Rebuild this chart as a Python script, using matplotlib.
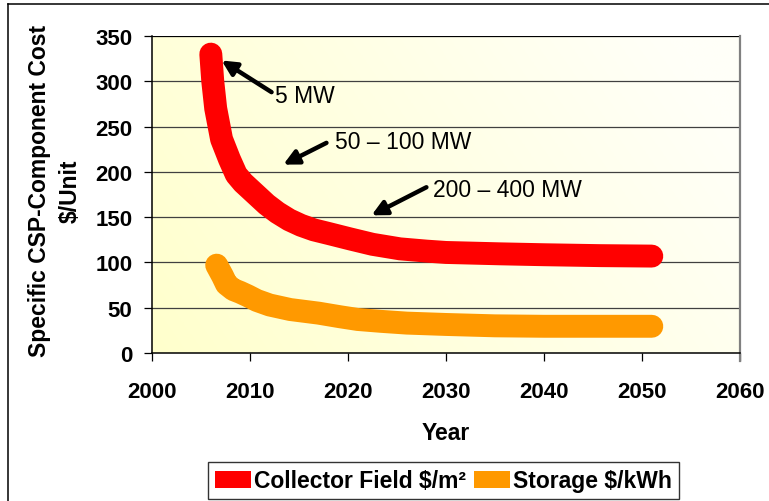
import matplotlib
matplotlib.use("Agg")
import matplotlib.pyplot as plt
import numpy as np
from matplotlib.lines import Line2D

plt.rcParams['font.family'] = ['Liberation Sans', 'DejaVu Sans']

# ---- data ----
collector_years = [2006.0, 2006.2, 2006.5, 2007.1, 2007.9, 2008.6, 2009.3, 2010.0, 2010.8,
                   2011.7, 2012.8, 2014.0, 2015.2, 2016.5, 2018.0, 2020.2, 2022.5,
                   2025.3, 2028.0, 2030.0, 2035.5, 2040.0, 2045.7, 2051.0]
collector_cost = [330, 300, 270, 236, 214, 197, 188, 181, 173,
                  164, 155, 147, 141, 136, 132, 126, 120,
                  115, 112.5, 111, 109.5, 108.5, 107.5, 107]

storage_years = [2006.6, 2007.2, 2007.6, 2008.3, 2009.0, 2009.8, 2010.7, 2012.0, 2014.1,
                 2017.0, 2019.2, 2021.0, 2023.3, 2026.0, 2030.0, 2035.0, 2040.0, 2045.0, 2051.0]
storage_cost = [97, 85, 76, 70, 67, 63, 58, 53, 48,
                44, 40, 37, 35, 33, 31.5, 30, 29.5, 29.5, 29.5]

series_labels = ["Collector Field $/m²", "Storage $/kWh"]
series_colors = ["#FF0000", "#FF9900"]

x_ticks = [2000, 2010, 2020, 2030, 2040, 2050, 2060]
y_ticks = [0, 50, 100, 150, 200, 250, 300, 350]

annot_texts = ["5 MW", "50 – 100 MW", "200 – 400 MW"]
annot_heads = [(2007.1, 323), (2013.4, 208), (2022.4, 152)]
annot_tails = [(2012.2, 288), (2017.8, 232), (2028.0, 183)]
annot_text_pos = [(2012.6, 284), (2018.7, 233), (2028.7, 181)]

# ---- figure ----
fig = plt.figure(figsize=(7.69, 5.02), dpi=100)
ax = fig.add_axes([152/769, 1-354/502, (740-152)/769, (354-37)/502])

# gradient background
nx, ny = 200, 100
gx = np.linspace(0, 1, nx)[None, :]
gy = np.linspace(0, 1, ny)[:, None]
t = np.clip(0.8*gx + 0.3*gy, 0, 1)
c0 = np.array([255, 255, 204]) / 255.0
c1 = np.array([255, 255, 248]) / 255.0
img = c0[None, None, :] * (1 - t[..., None]) + c1[None, None, :] * t[..., None]
ax.imshow(img, extent=[2000, 2060, 0, 350], origin='lower', aspect='auto', zorder=0)

ax.set_xlim(2000, 2060)
ax.set_ylim(0, 350)

for v in y_ticks[1:]:
    ax.axhline(v, color='#000000' if v == 350 else '#404040', lw=0.9, zorder=1)

ax.plot(collector_years, collector_cost, color=series_colors[0], lw=16.5,
        solid_capstyle='round', solid_joinstyle='round', zorder=3, label=series_labels[0])
ax.plot(storage_years, storage_cost, color=series_colors[1], lw=16.5,
        solid_capstyle='round', solid_joinstyle='round', zorder=3, label=series_labels[1])

for txt, head, tail, tp in zip(annot_texts, annot_heads, annot_tails, annot_text_pos):
    ax.annotate("", xy=head, xytext=tail,
                arrowprops=dict(arrowstyle='-|>', color='black', lw=3.2,
                                mutation_scale=22, shrinkA=0, shrinkB=0), zorder=5)
    ax.text(tp[0], tp[1], txt, fontsize=16.5, va='center', ha='left', color='black', zorder=5)

ax.set_xticks(x_ticks)
ax.set_yticks(y_ticks)
ax.set_xticklabels([str(v) for v in x_ticks], fontsize=16, fontweight='bold')
ax.set_yticklabels([str(v) for v in y_ticks], fontsize=16, fontweight='bold')
ax.tick_params(axis='y', direction='out', length=6, width=0.9, pad=8)
ax.tick_params(axis='x', direction='out', length=6, width=0.9, pad=14)

ax.spines['top'].set_visible(False)
ax.spines['left'].set_color('black')
ax.spines['left'].set_linewidth(1.1)
ax.spines['bottom'].set_color('black')
ax.spines['bottom'].set_linewidth(1.1)
ax.spines['right'].set_color('#808080')
ax.spines['right'].set_linewidth(1.6)
ax.spines['right'].set_bounds(-8/0.905, 350)

ax.set_xlabel("Year", fontsize=16.5, fontweight='bold', labelpad=14)

fig.text(40/769, 1-191/502, "Specific CSP-Component Cost", rotation=90,
         fontsize=16.5, fontweight='bold', ha='center', va='center')
fig.text(70/769, 1-191/502, "$/Unit", rotation=90,
         fontsize=16.5, fontweight='bold', ha='center', va='center')

leg = fig.legend(handles=[
    matplotlib.patches.Patch(facecolor=series_colors[0], edgecolor='none', label=series_labels[0]),
    matplotlib.patches.Patch(facecolor=series_colors[1], edgecolor='none', label=series_labels[1])],
    loc='center', bbox_to_anchor=(443.5/769, 1-481.7/502), ncol=2,
    prop={'size': 16.5, 'weight': 'bold'}, frameon=True, fancybox=False,
    edgecolor='black', handlelength=1.57, handleheight=0.74,
    handletextpad=0.16, columnspacing=0.33, borderpad=0.3, borderaxespad=0)
leg.get_frame().set_linewidth(1.0)

# figure frame
fig.add_artist(Line2D([8/769, 8/769], [0, 1-5/502], transform=fig.transFigure, color='black', lw=1.1))
fig.add_artist(Line2D([8/769, 1], [1-5/502, 1-5/502], transform=fig.transFigure, color='black', lw=1.1))

fig.savefig("out.png", dpi=100)
